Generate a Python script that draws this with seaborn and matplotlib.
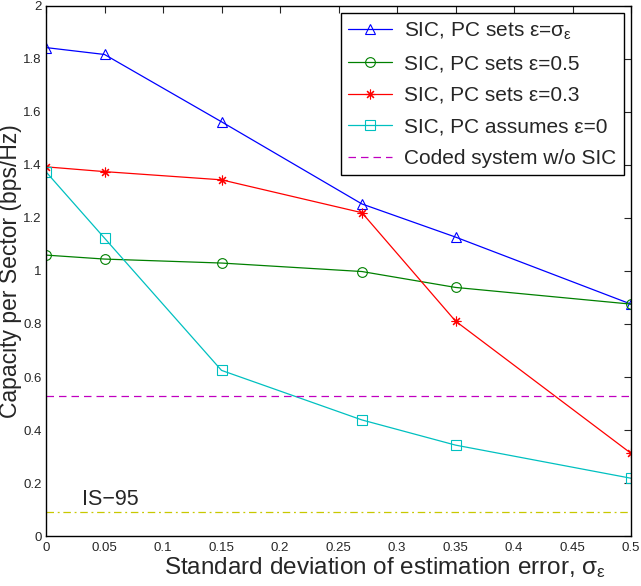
import matplotlib
matplotlib.use("Agg")
import matplotlib.pyplot as plt
import seaborn as sns
import numpy as np

sigma = [0, 0.05, 0.15, 0.27, 0.35, 0.5]
pc_sigma = [1.843, 1.817, 1.563, 1.253, 1.128, 0.875]
pc_05 = [1.060, 1.045, 1.030, 0.998, 0.938, 0.875]
pc_03 = [1.393, 1.375, 1.344, 1.220, 0.811, 0.312]
pc_0 = [1.374, 1.124, 0.625, 0.438, 0.343, 0.218]
coded_wo_sic = 0.529
is95 = 0.089

labels = ['SIC, PC sets ε=$\\sigma_\\varepsilon$', 'SIC, PC sets ε=0.5',
          'SIC, PC sets ε=0.3', 'SIC, PC assumes ε=0', 'Coded system w/o SIC']
xtick_vals = [0, 0.05, 0.1, 0.15, 0.2, 0.25, 0.3, 0.35, 0.4, 0.45, 0.5]
xtick_labels = ['0', '0.05', '0.1', '0.15', '0.2', '0.25', '0.3', '0.35', '0.4', '0.45', '0.5']
ytick_vals = [0, 0.2, 0.4, 0.6, 0.8, 1.0, 1.2, 1.4, 1.6, 1.8, 2.0]
ytick_labels = ['0', '0.2', '0.4', '0.6', '0.8', '1', '1.2', '1.4', '1.6', '1.8', '2']

sns.set_style("white")
plt.rcParams['font.family'] = ['Liberation Sans', 'DejaVu Sans']
plt.rcParams['mathtext.fontset'] = 'custom'
plt.rcParams['mathtext.rm'] = 'Liberation Sans'
plt.rcParams['mathtext.it'] = 'Liberation Sans'

fig = plt.figure(figsize=(6.41, 5.86), dpi=100)
ax = fig.add_axes([0.0718, 0.0853, 0.9126, 0.9045])

series = [(pc_sigma, 'blue', '^'), (pc_05, 'green', 'o'), (pc_03, 'red', (8, 2, 0)), (pc_0, '#00c0c0', 's')]
for (vals, col, mk), lab in zip(series, labels[:4]):
    sns.lineplot(x=sigma, y=vals, ax=ax, color=col, marker=mk, markersize=7,
                 markerfacecolor='none', markeredgecolor=col, markeredgewidth=0.8,
                 linewidth=0.9, label=lab)

ax.axhline(coded_wo_sic, color='#c000c0', linestyle=(0, (6, 4)), linewidth=0.9, label=labels[4])
ax.axhline(is95, color='#c8c800', linestyle=(0, (6, 3, 1.5, 3)), linewidth=0.9)
ax.text(0.031, 0.117, 'IS−95', fontsize=15.5)

ax.set_xlim(0, 0.5)
ax.set_ylim(0, 2)
ax.set_xticks(xtick_vals)
ax.set_xticklabels(xtick_labels)
ax.set_yticks(ytick_vals)
ax.set_yticklabels(ytick_labels)
ax.tick_params(direction='in', top=True, right=True, length=5, width=0.8, labelsize=9.5, pad=4)
ax.tick_params(axis='y', pad=3)
for s in ax.spines.values():
    s.set_color('black')
    s.set_linewidth(1.0)
ax.set_xlabel('Standard deviation of estimation error, $\\sigma_\\varepsilon$', fontsize=17.5)
ax.xaxis.set_label_coords(0.58, -0.036)
ax.set_ylabel('Capacity per Sector (bps/Hz)', fontsize=16.5)
ax.yaxis.set_label_coords(-0.041, 0.5)

leg = ax.legend(loc='upper right', fontsize=15, frameon=True, fancybox=False,
                edgecolor='black', framealpha=1, borderaxespad=0.35, handlelength=2.1,
                handletextpad=0.6, labelspacing=0.6, borderpad=0.35)
leg.get_frame().set_linewidth(1.0)

fig.savefig('out.png', dpi=100)
